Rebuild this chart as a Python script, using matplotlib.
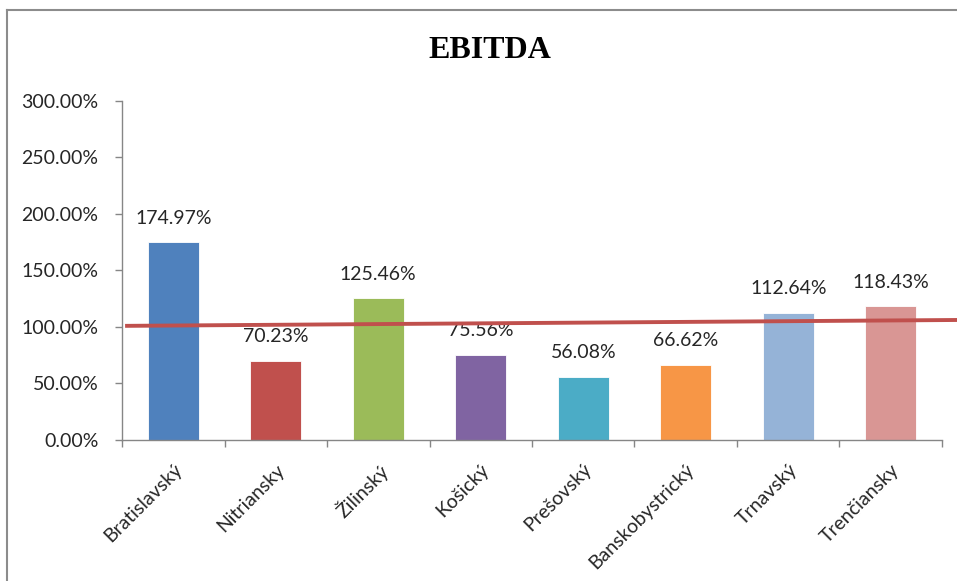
import matplotlib
matplotlib.use("Agg")
import matplotlib.pyplot as plt
from matplotlib.lines import Line2D
from matplotlib.ticker import FuncFormatter, MultipleLocator

# ---- data ----
regions = ["Bratislavský", "Nitriansky", "Žilinský", "Košický",
           "Prešovský", "Banskobystrický", "Trnavský", "Trenčiansky"]
ebitda_pct = [174.97, 70.23, 125.46, 75.56, 56.08, 66.62, 112.64, 118.43]
bar_colors = ["#4F81BD", "#C0504D", "#9BBB59", "#8064A2",
              "#4BACC6", "#F79646", "#95B3D7", "#D99694"]

# red reference line: x in category units, y in percent
ref_x = [-0.47, 7.65]
ref_y = [101.0, 106.2]

TEXT = "#262626"
AXIS = "#868686"
FONT = "Lato"
FS = 14

fig = plt.figure(figsize=(9.57, 5.81), dpi=100)
ax = fig.add_axes([0.1275, 0.2427, 0.8568, 0.5835])

x = range(len(regions))
ax.bar(x, ebitda_pct, width=0.5, color=bar_colors, edgecolor="white", linewidth=0.6, zorder=2)

for xi, v in zip(x, ebitda_pct):
    ax.annotate(f"{v:.2f}%", (xi, v), xytext=(0, 11), textcoords="offset points",
                ha="center", va="bottom", fontsize=FS, color=TEXT, family=FONT)

ax.plot(ref_x, ref_y, color="#C0504D", linewidth=2.8, clip_on=False, zorder=3,
        solid_capstyle="butt")

ax.set_xlim(-0.5, len(regions) - 0.5)
ax.set_ylim(0, 300)
ax.yaxis.set_major_locator(MultipleLocator(50))
ax.yaxis.set_major_formatter(FuncFormatter(lambda v, _: f"{v:.2f}%"))

# category ticks sit on the boundaries, labels at the centres
ax.set_xticks([i - 0.5 for i in range(len(regions) + 1)])
ax.set_xticklabels([])
ax.set_xticks(list(x), minor=True)
ax.set_xticklabels(regions, minor=True, rotation=45, ha="right", va="top",
                   rotation_mode="anchor", fontsize=FS, color=TEXT, family=FONT)
ax.tick_params(axis="x", which="minor", length=0, pad=15)
ax.tick_params(axis="x", which="major", length=5, width=1, color=AXIS, direction="out")
ax.tick_params(axis="y", length=5, width=1, color=AXIS, direction="out",
               labelsize=FS, labelcolor=TEXT, pad=12)
for lab in ax.get_yticklabels():
    lab.set_family(FONT)

for side in ["top", "right"]:
    ax.spines[side].set_visible(False)
for side in ["left", "bottom"]:
    ax.spines[side].set_color(AXIS)
    ax.spines[side].set_linewidth(1)

fig.text(0.512, 0.913, "EBITDA", ha="center", va="center", fontsize=23,
         fontweight="bold", family="Liberation Serif", color="black")

# chart-area frame (left and top edges visible in the crop)
fig.add_artist(Line2D([0.007, 0.007], [0.0, 0.983], transform=fig.transFigure,
                      color="#8C8C8C", linewidth=1.5))
fig.add_artist(Line2D([0.007, 1.0], [0.983, 0.983], transform=fig.transFigure,
                      color="#8C8C8C", linewidth=1.5))

fig.savefig("out.png", dpi=100)
